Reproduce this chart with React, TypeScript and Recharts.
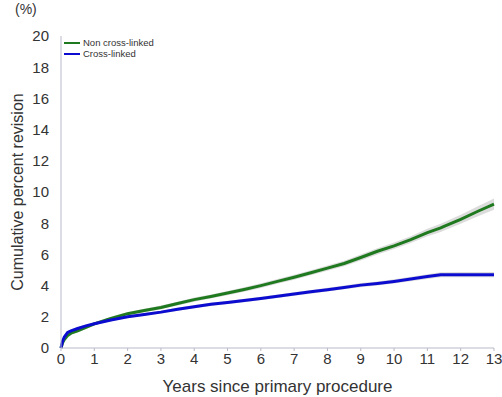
import { Line, Area, ComposedChart, XAxis, YAxis, Label } from 'recharts'

const years = [0, 0.05, 0.1, 0.2, 0.3, 0.5, 0.75, 1, 1.5, 2, 2.5, 3, 3.5, 4, 4.5, 5, 5.5, 6, 6.5, 7, 7.5, 8, 8.5, 9, 9.5, 10, 10.5, 11, 11.4, 11.5, 12, 12.5, 13]
const nonCrossLinked = [0, 0.35, 0.55, 0.8, 0.95, 1.1, 1.32, 1.55, 1.9, 2.2, 2.4, 2.6, 2.85, 3.1, 3.3, 3.52, 3.75, 4.0, 4.27, 4.54, 4.82, 5.12, 5.42, 5.8, 6.2, 6.55, 6.95, 7.4, 7.7, 7.8, 8.25, 8.75, 9.22]
const crossLinked = [0, 0.45, 0.7, 1.0, 1.1, 1.25, 1.42, 1.55, 1.8, 2.0, 2.15, 2.3, 2.48, 2.65, 2.8, 2.92, 3.05, 3.18, 3.32, 3.46, 3.6, 3.74, 3.88, 4.03, 4.14, 4.27, 4.42, 4.58, 4.7, 4.7, 4.7, 4.7, 4.7]
// half width of the confidence band
const nonCrossCI = [0, 0.08, 0.08, 0.09, 0.09, 0.09, 0.1, 0.1, 0.1, 0.11, 0.11, 0.12, 0.12, 0.13, 0.13, 0.14, 0.14, 0.15, 0.15, 0.16, 0.16, 0.17, 0.18, 0.19, 0.2, 0.21, 0.22, 0.24, 0.26, 0.26, 0.29, 0.32, 0.36]
const crossCI = [0, 0.08, 0.08, 0.08, 0.08, 0.08, 0.08, 0.08, 0.09, 0.09, 0.09, 0.09, 0.1, 0.1, 0.1, 0.1, 0.11, 0.11, 0.11, 0.11, 0.12, 0.12, 0.12, 0.13, 0.13, 0.14, 0.14, 0.15, 0.16, 0.16, 0.17, 0.17, 0.17]

const xTicks = [0, 1, 2, 3, 4, 5, 6, 7, 8, 9, 10, 11, 12, 13]
const yTicks = [0, 2, 4, 6, 8, 10, 12, 14, 16, 18, 20]

const GREEN = '#1f7a1f'
const BLUE = '#0c0cd0'
const BAND = '#dcdcdc'
const AXIS = '#b9b9c9'
const FONT = '"Liberation Sans", Arial, sans-serif'

const legendItems = [
  { name: 'Non cross-linked', color: GREEN },
  { name: 'Cross-linked', color: BLUE },
]

const data = years.map((y, i) => ({
  year: y,
  nonCross: nonCrossLinked[i],
  cross: crossLinked[i],
  nonCrossBand: [nonCrossLinked[i] - nonCrossCI[i], nonCrossLinked[i] + nonCrossCI[i]],
  crossBand: [crossLinked[i] - crossCI[i], crossLinked[i] + crossCI[i]],
}))

export default function App() {
  return (
    <div style={{ position: 'absolute', left: 0, top: 0, width: 502, height: 397, background: '#fff', fontFamily: FONT }}>
      <div style={{ position: 'absolute', left: 15, top: 1, fontSize: 14, color: '#333' }}>(%)</div>
      <ComposedChart width={502} height={397} data={data} margin={{ top: 36, right: 8, left: 0, bottom: 0 }}>
        <XAxis
          dataKey="year"
          type="number"
          domain={[0, 13]}
          ticks={xTicks}
          interval={0}
          height={49}
          stroke={AXIS}
          tickSize={3}
          tick={{ fill: '#333', fontSize: 15, fontFamily: FONT }}
        >
          <Label value="Years since primary procedure" position="insideBottom" offset={5} style={{ fill: '#333', fontSize: 17, fontFamily: FONT }} />
        </XAxis>
        <YAxis
          type="number"
          domain={[0, 20]}
          ticks={yTicks}
          interval={0}
          width={61}
          stroke={AXIS}
          tickLine={false}
          tickMargin={6}
          tick={{ fill: '#333', fontSize: 15, fontFamily: FONT }}
        >
          <Label value="Cumulative percent revision" angle={-90} position="insideLeft" offset={17} style={{ textAnchor: 'middle', fill: '#333', fontSize: 16, fontFamily: FONT }} />
        </YAxis>
        <Area dataKey="nonCrossBand" type="linear" stroke="none" fill={BAND} fillOpacity={1} isAnimationActive={false} />
        <Area dataKey="crossBand" type="linear" stroke="none" fill={BAND} fillOpacity={1} isAnimationActive={false} />
        <Line dataKey="nonCross" type="linear" stroke={GREEN} strokeWidth={3} dot={false} isAnimationActive={false} />
        <Line dataKey="cross" type="linear" stroke={BLUE} strokeWidth={3} dot={false} isAnimationActive={false} />
      </ComposedChart>
      <div style={{ position: 'absolute', left: 64, top: 37, fontSize: 9.5, color: '#333', lineHeight: '11px' }}>
        {legendItems.map((item) => (
          <div key={item.name} style={{ display: 'flex', alignItems: 'center' }}>
            <span style={{ display: 'inline-block', width: 16, height: 2, background: item.color, marginRight: 3 }} />
            {item.name}
          </div>
        ))}
      </div>
    </div>
  )
}
